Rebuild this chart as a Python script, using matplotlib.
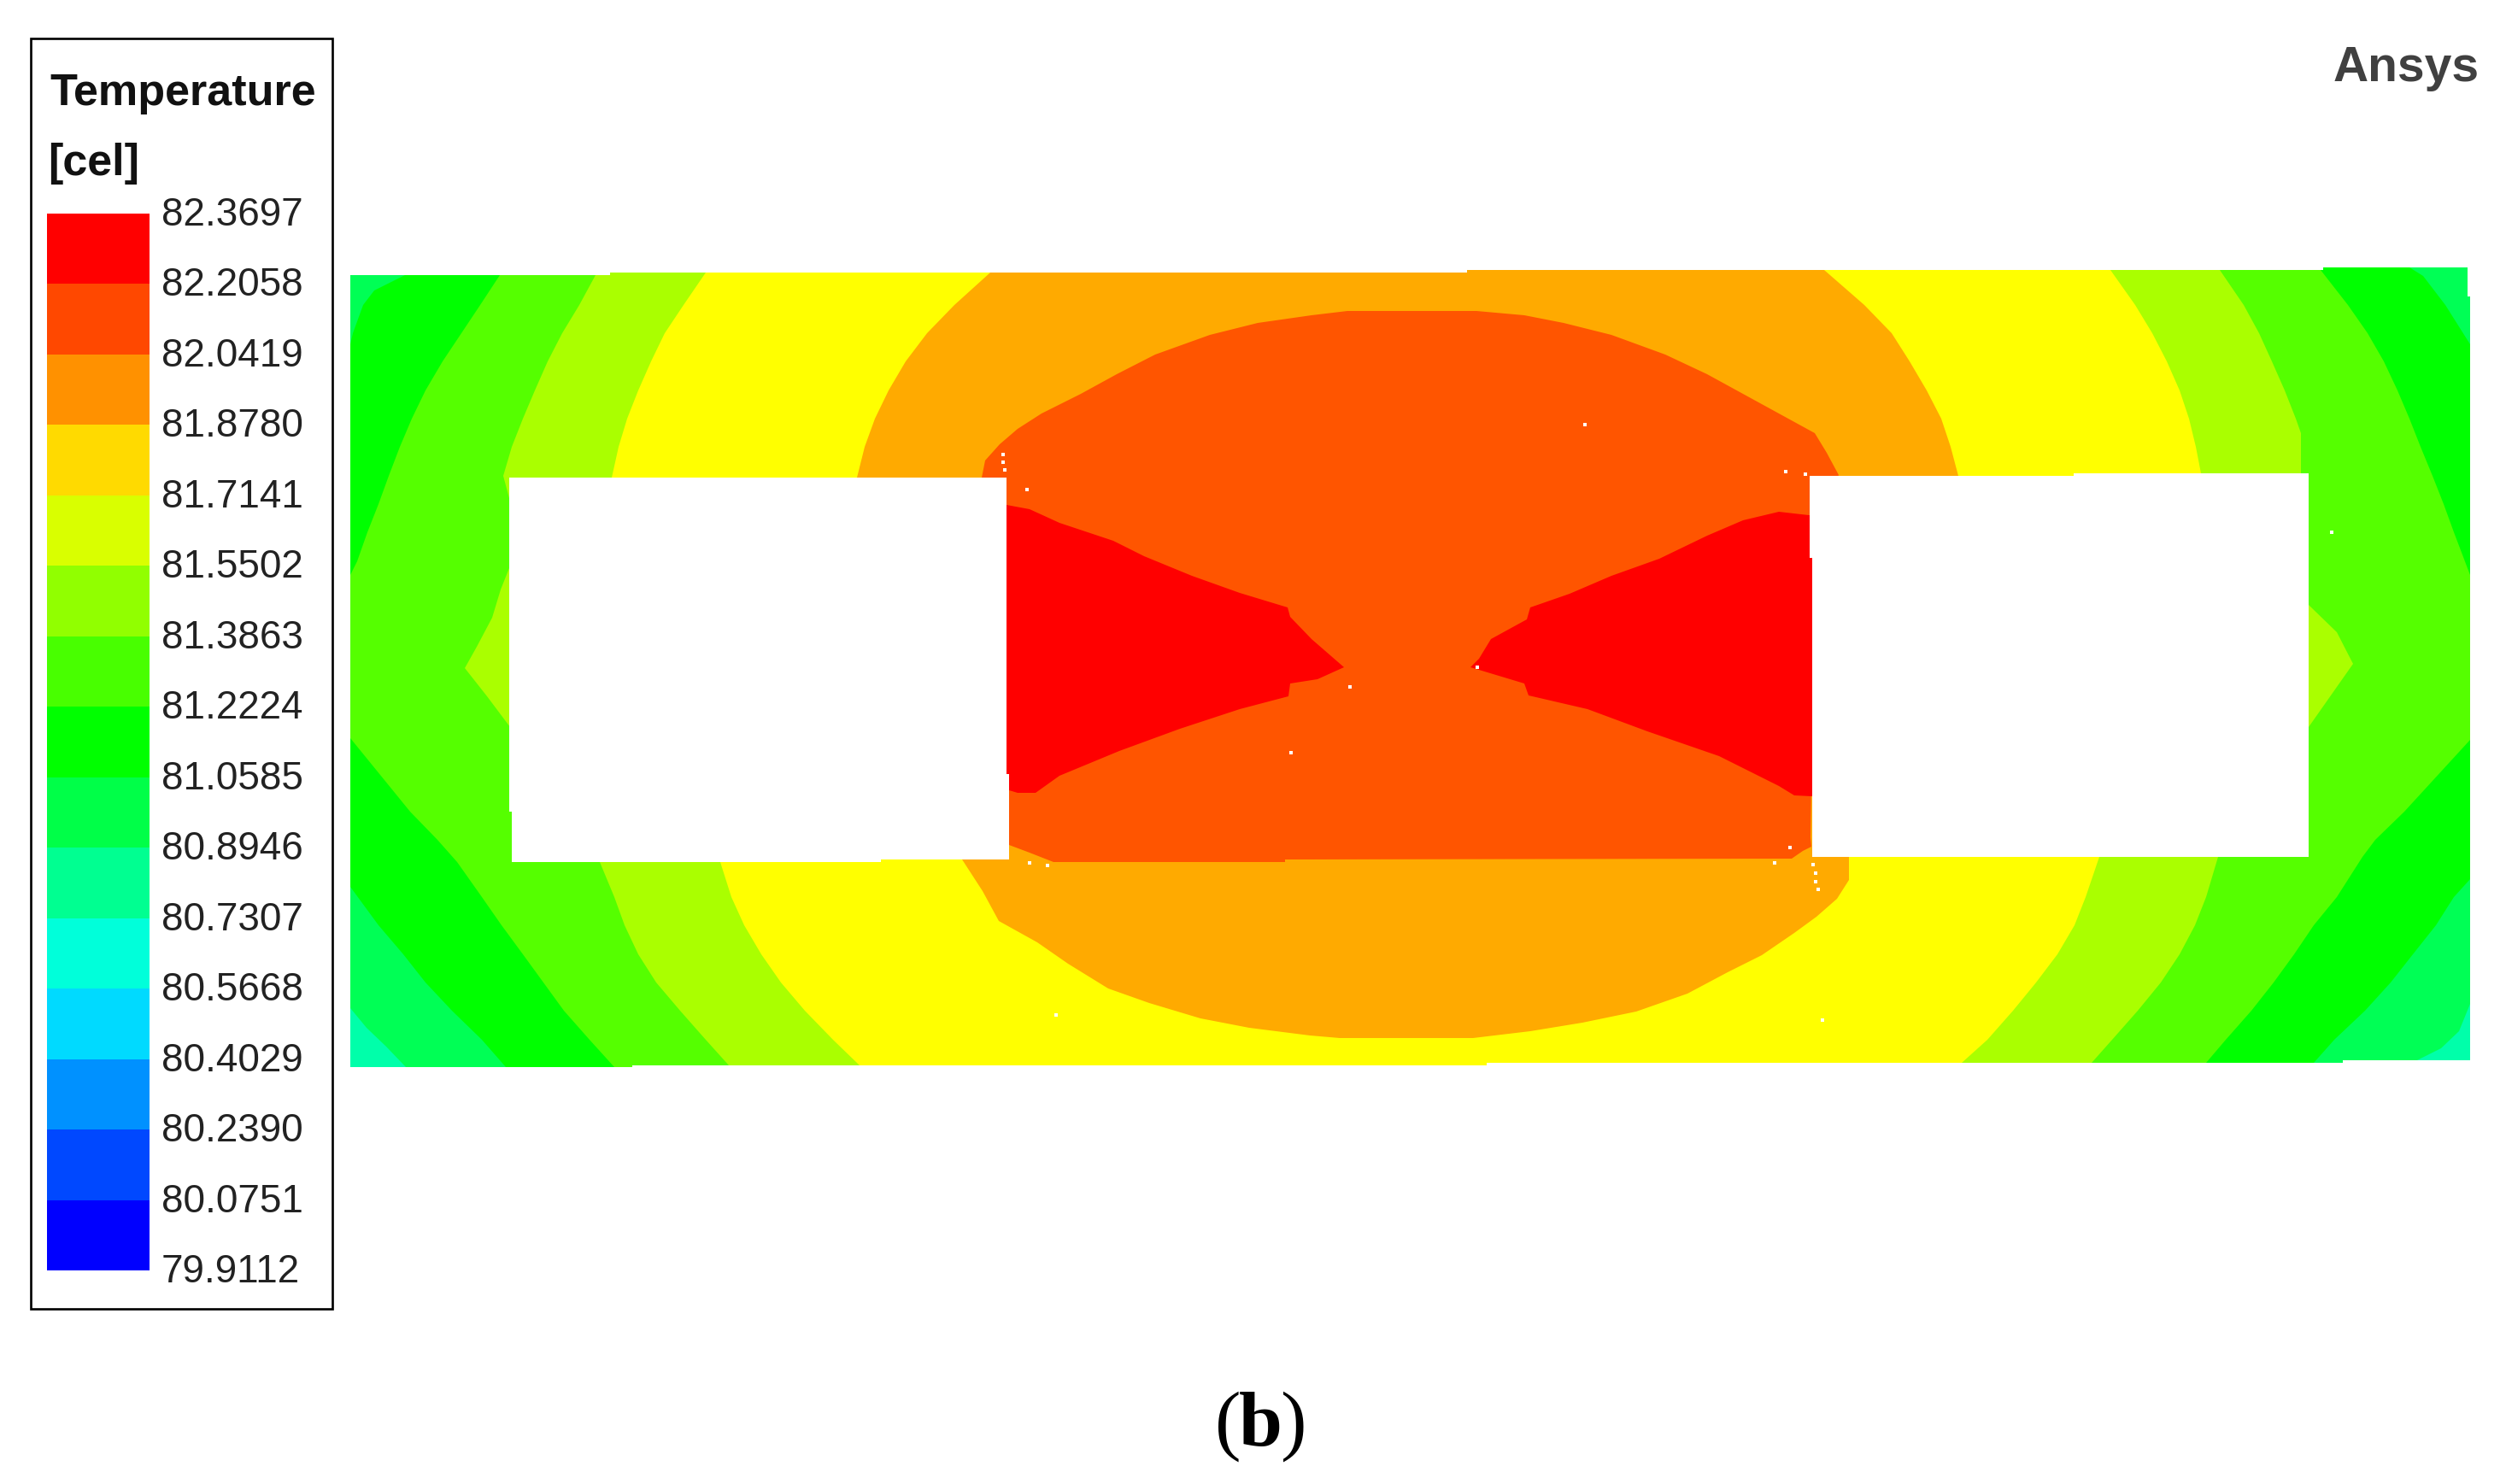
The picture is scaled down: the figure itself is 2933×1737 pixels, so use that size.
"""
Temperature contour of the heated plate with two cut-outs (ANSYS style export).
Isotherm outlines are read off the picture, in pixel units of the original image.
"""

import matplotlib
matplotlib.use('Agg')
import matplotlib.pyplot as plt
from matplotlib.patches import Rectangle
from matplotlib.transforms import ScaledTranslation

W, H = 2933, 1737

# legend
legend_values = [79.9112, 80.0751, 80.2390, 80.4029, 80.5668, 80.7307, 80.8946, 81.0585,
                 81.2224, 81.3863, 81.5502, 81.7141, 81.8780, 82.0419, 82.2058, 82.3697]
legend_labels = ['79.9112', '80.0751', '80.2390', '80.4029', '80.5668', '80.7307', '80.8946', '81.0585',
                 '81.2224', '81.3863', '81.5502', '81.7141', '81.8780', '82.0419', '82.2058', '82.3697']
legend_colors = ['#0000ff', '#0048ff', '#0091ff', '#00daff', '#00ffda', '#00ff91', '#00ff48', '#00ff00',
                 '#48ff00', '#91ff00', '#d9ff00', '#ffda00', '#ff9100', '#ff4800', '#ff0000']

# plate outline
plate_x = [410, 714, 714, 1717, 1717, 2719, 2719, 2888, 2888, 2891, 2891, 2742, 2742, 1740, 1740, 740, 740, 410]
plate_y = [322, 322, 319, 319, 316, 316, 313, 313, 347, 347, 1241, 1241, 1244, 1244, 1247, 1247, 1249, 1249]

# cut-outs
hole_left_x = [596, 1178, 1178, 1181, 1181, 1031, 1031, 599, 599, 596]
hole_left_y = [559, 559, 906, 906, 1006, 1006, 1009, 1009, 950, 950]
hole_right_x = [2118, 2427, 2427, 2702, 2702, 2121, 2121, 2118]
hole_right_y = [557, 557, 554, 554, 1003, 1003, 653, 653]

# isotherms: left side runs top to bottom, right side too
iso1_left = [(400, 300), (400, 1180), (410, 1180), (429, 1203), (452, 1225), (475, 1249), (480, 1260)]
iso1_right = [(2900, 300), (2900, 1175), (2891, 1175), (2878, 1207), (2857, 1227), (2829, 1241), (2815, 1260)]

iso2_left = [(485, 305), (474, 322), (438, 340), (425, 357), (413, 390), (410, 403), (400, 410), (400, 1035),
             (410, 1038), (443, 1083), (472, 1117), (498, 1150), (529, 1183), (564, 1217), (592, 1249), (600, 1260)]
iso2_right = [(2810, 305), (2820, 313), (2836, 323), (2862, 357), (2891, 403), (2900, 410), (2900, 1025),
              (2891, 1029), (2872, 1050), (2851, 1083), (2824, 1117), (2798, 1150), (2768, 1183), (2732, 1217),
              (2708, 1244), (2700, 1260)]

iso3_left = [(595, 305), (585, 322), (562, 357), (540, 390), (518, 423), (498, 457), (482, 490), (468, 523),
             (455, 557), (443, 590), (430, 623), (418, 657), (410, 673), (400, 680), (400, 860), (410, 864),
             (480, 950), (512, 983), (535, 1009), (564, 1050), (587, 1083), (612, 1117), (636, 1150), (660, 1183),
             (690, 1217), (719, 1249), (728, 1260)]
iso3_right = [(2708, 305), (2716, 316), (2748, 357), (2771, 390), (2790, 423), (2806, 457), (2820, 490), (2833, 523),
              (2847, 557), (2860, 590), (2872, 623), (2891, 673), (2900, 680), (2900, 860), (2891, 866), (2814, 950),
              (2780, 983), (2765, 1003), (2735, 1050), (2708, 1083), (2685, 1117), (2661, 1150), (2635, 1183),
              (2605, 1217), (2582, 1244), (2572, 1260)]

iso4_left = [(705, 305), (697, 322), (678, 357), (658, 390), (641, 423), (626, 457), (612, 490), (599, 523),
             (589, 557), (596, 583), (598, 600), (598, 660), (596, 665), (586, 690), (576, 723), (558, 757),
             (544, 782), (570, 815), (597, 851), (650, 950), (702, 1009), (719, 1050), (731, 1083), (747, 1117),
             (768, 1150), (796, 1183), (826, 1217), (853, 1247), (863, 1260)]
iso4_right = [(2590, 305), (2598, 316), (2626, 357), (2644, 390), (2659, 423), (2674, 457), (2687, 490), (2693, 507),
              (2693, 554), (2700, 700), (2702, 708), (2735, 740), (2754, 777), (2702, 851), (2650, 950), (2596, 1003),
              (2582, 1050), (2569, 1083), (2551, 1117), (2529, 1150), (2502, 1183), (2472, 1217), (2448, 1244),
              (2438, 1260)]

iso5_left = [(832, 305), (826, 319), (800, 357), (778, 390), (762, 423), (747, 457), (734, 490), (724, 523),
             (716, 559), (780, 800), (843, 1009), (856, 1050), (871, 1083), (891, 1117), (914, 1150), (942, 1183),
             (975, 1217), (1006, 1247), (1016, 1260)]
iso5_right = [(2462, 305), (2470, 316), (2499, 357), (2519, 390), (2536, 423), (2551, 457), (2562, 490), (2570, 523),
              (2576, 554), (2500, 800), (2457, 1003), (2441, 1050), (2428, 1083), (2408, 1117), (2383, 1150),
              (2356, 1183), (2326, 1217), (2296, 1244), (2286, 1260)]

iso6_outline = [(1170, 305), (1159, 319), (1117, 357), (1085, 390), (1060, 423), (1040, 457), (1024, 490), (1012, 523),
                (1003, 559), (1060, 800), (1126, 1006), (1150, 1043), (1169, 1078), (1214, 1103), (1250, 1128),
                (1297, 1157), (1345, 1174), (1405, 1192), (1462, 1203), (1533, 1212), (1568, 1215), (1724, 1215),
                (1791, 1207), (1852, 1197), (1915, 1184), (1975, 1163), (2022, 1138), (2062, 1118), (2100, 1092),
                (2126, 1073), (2150, 1052), (2164, 1030), (2164, 1003), (2230, 800), (2292, 557), (2283, 523),
                (2272, 490), (2255, 457), (2235, 423), (2214, 390), (2182, 357), (2135, 316), (2125, 305)]

iso7_outline = [(1149, 559), (1153, 539), (1170, 520), (1191, 502), (1219, 484), (1265, 461), (1307, 438), (1352, 415),
                (1416, 392), (1472, 378), (1535, 369), (1577, 364), (1728, 364), (1784, 369), (1830, 378), (1886, 392),
                (1949, 415), (1998, 438), (2040, 461), (2082, 484), (2124, 507), (2138, 530), (2152, 556), (2125, 600),
                (2119, 980), (2120, 991), (2110, 996), (2097, 1005), (1504, 1006), (1504, 1009), (1233, 1009),
                (1205, 998), (1181, 989), (1176, 900), (1170, 600)]

iso8_left = [(1170, 591), (1178, 591), (1205, 596), (1240, 612), (1303, 633), (1339, 651), (1395, 674), (1451, 694),
             (1507, 711), (1510, 722), (1535, 748), (1573, 781), (1542, 795), (1510, 800), (1508, 815), (1451, 830),
             (1381, 853), (1310, 879), (1240, 908), (1212, 928), (1191, 928), (1181, 925), (1170, 925)]
iso8_right = [(2125, 603), (2117, 603), (2082, 599), (2040, 609), (1998, 627), (1942, 654), (1886, 674), (1837, 695),
              (1791, 711), (1787, 725), (1745, 748), (1731, 771), (1721, 781), (1784, 800), (1789, 814), (1858, 830),
              (1928, 856), (2012, 885), (2082, 920), (2100, 931), (2120, 932), (2125, 932)]

band_colors = ['#00ffaa', '#00ff55', '#00ff00', '#55ff00', '#aaff00', '#ffff00', '#ffaa00', '#ff5500', '#ff0000']

# small holes in the export
speck_x = [1855, 1202, 2090, 2113, 1580, 1729, 1511, 1174, 1174, 1176, 2729, 1205, 1226, 1236, 2095, 2077, 2122, 2125, 2125, 2128, 2133]
speck_y = [497, 573, 552, 555, 804, 781, 881, 532, 541, 550, 623, 1010, 1013, 1188, 992, 1010, 1012, 1022, 1032, 1041, 1194]


def fill_band(ax, points, color, clip):
    xs = [p[0] for p in points]
    ys = [p[1] for p in points]
    poly = ax.fill(xs, ys, color=color, linewidth=0, zorder=2)[0]
    poly.set_clip_path(clip)


fig = plt.figure(figsize=(W / 100, H / 100), dpi=100)
ax = fig.add_axes([0, 0, 1, 1])
ax.set_xlim(0, W)
ax.set_ylim(H, 0)
ax.axis('off')

plate = ax.fill(plate_x, plate_y, color=band_colors[0], linewidth=0, zorder=1)[0]

fill_band(ax, iso1_left + iso1_right[::-1], band_colors[1], plate)
fill_band(ax, iso2_left + iso2_right[::-1], band_colors[2], plate)
fill_band(ax, iso3_left + iso3_right[::-1], band_colors[3], plate)
fill_band(ax, iso4_left + iso4_right[::-1], band_colors[4], plate)
fill_band(ax, iso5_left + iso5_right[::-1], band_colors[5], plate)
fill_band(ax, iso6_outline, band_colors[6], plate)
fill_band(ax, iso7_outline, band_colors[7], plate)
# the two red wedges are separate regions
fill_band(ax, iso8_left, band_colors[8], plate)
fill_band(ax, iso8_right, band_colors[8], plate)

ax.fill(hole_left_x, hole_left_y, color='white', linewidth=0, zorder=3)
ax.fill(hole_right_x, hole_right_y, color='white', linewidth=0, zorder=3)
ax.scatter(speck_x, speck_y, s=5, marker='s', color='white', linewidths=0, zorder=4)

# legend box
ax.add_patch(Rectangle((36, 45), 353, 1487, fill=False, edgecolor='black', linewidth=1.9, zorder=5))
ax.text(58, 110, 'Temperature', family='Liberation Sans', fontweight='bold', fontsize=37.5,
        ha='left', va='center', color='#111111')
ax.text(56, 191, '[cel]', family='Liberation Sans', fontweight='bold', fontsize=37.5,
        ha='left', va='center', color='#111111')

ax.text(2902, 95, 'Ansys', family='Liberation Sans', fontweight='bold', fontsize=41,
        ha='right', va='baseline', color='#404040')
# only the letter is bold in the caption
ax.text(1437, 1692, '(', family='Liberation Serif', fontsize=66, ha='center', va='baseline', color='black')
ax.text(1475, 1692, 'b', family='Liberation Serif', fontweight='bold', fontsize=66,
        ha='center', va='baseline', color='black')
ax.text(1514, 1692, ')', family='Liberation Serif', fontsize=66, ha='center', va='baseline', color='black')

# colour scale
cax = fig.add_axes([55 / W, 1 - 1487 / H, 120 / W, 1237 / H])
steps = [b - a for a, b in zip(legend_values[:-1], legend_values[1:])]
cax.bar([0] * len(steps), steps, bottom=legend_values[:-1], width=1, color=legend_colors, linewidth=0)
cax.set_xlim(-0.5, 0.5)
cax.set_ylim(legend_values[0], legend_values[-1])
cax.set_xticks([])
cax.yaxis.tick_right()
cax.set_yticks(legend_values)
cax.set_yticklabels(legend_labels, family='Liberation Sans', fontsize=33, color='#222222')
cax.tick_params(axis='y', length=0, pad=10)
for lbl in cax.get_yticklabels():
    lbl.set_transform(lbl.get_transform() + ScaledTranslation(0, 3 / 100, fig.dpi_scale_trans))
for spine in cax.spines.values():
    spine.set_visible(False)

fig.savefig('out.png', dpi=100)
